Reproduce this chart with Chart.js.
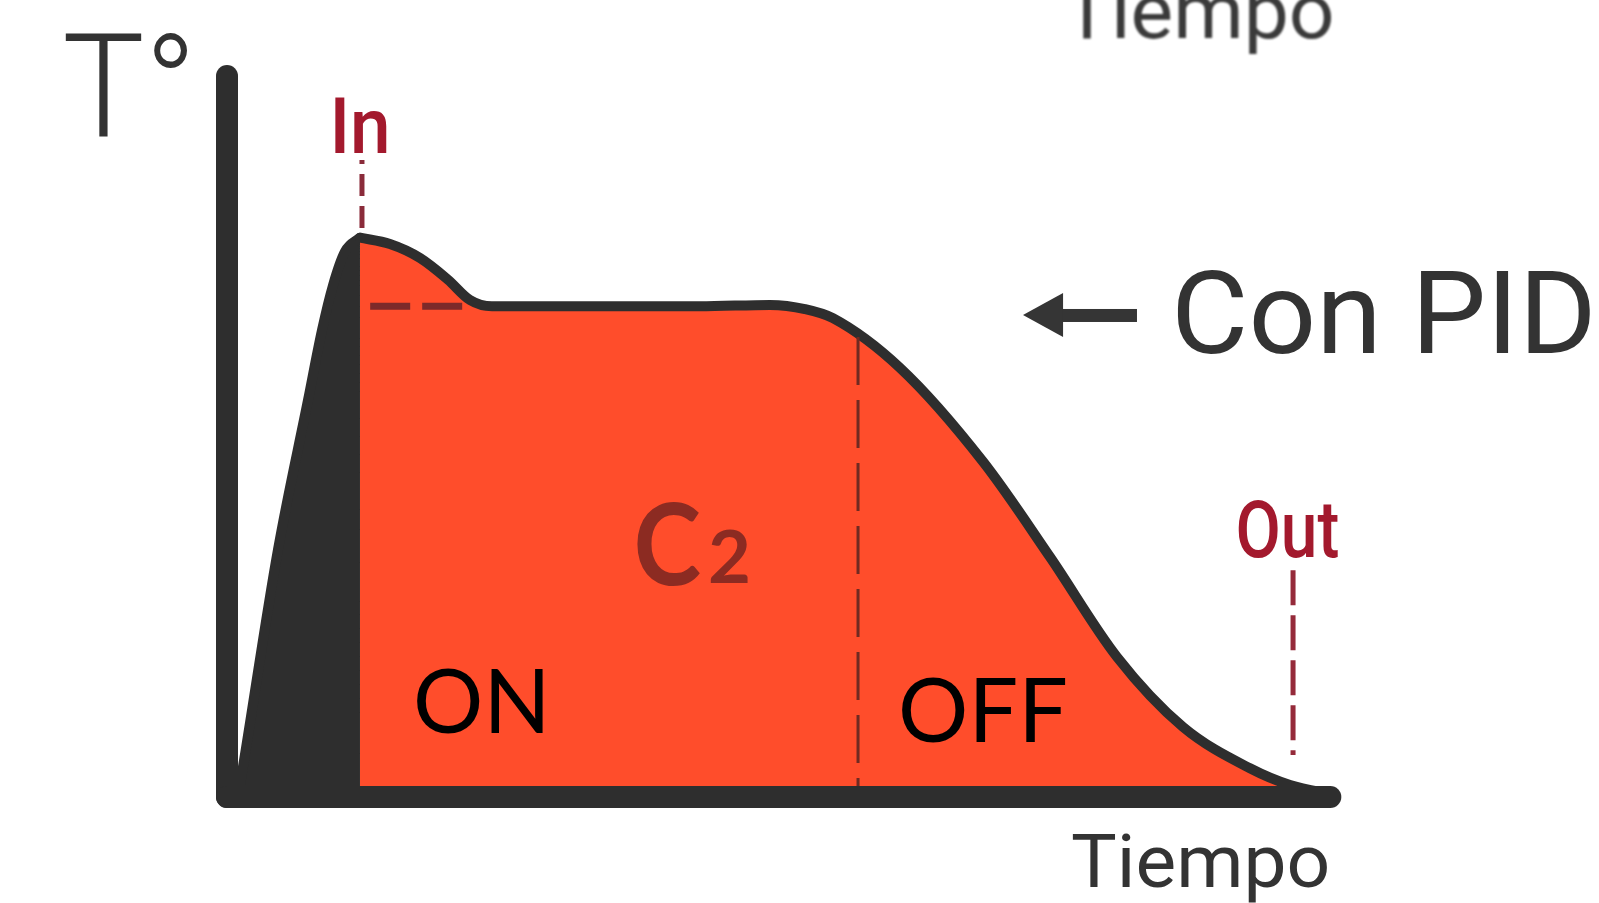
<!DOCTYPE html>
<html>
<head>
<meta charset="utf-8">
<script src="https://cdn.jsdelivr.net/npm/chart.js@4.4.1/dist/chart.umd.min.js"></script>
<style>
  html, body { margin: 0; padding: 0; background: #ffffff; }
  #wrap { width: 1599px; height: 903px; position: relative; }
</style>
</head>
<body>
<div id="wrap"><canvas id="c"></canvas></div>
<script>
// ---- Data (time in arbitrary units, temperature in arbitrary units) ----
const riseTime = [0.99, 1.44, 4.59, 7.30, 8.56, 9.55, 10.63, 11.98];
const riseTemp = [0, 4.3, 35.3, 56.7, 66.7, 73.1, 77.9, 79.9];

const pidTime = [11.98, 14.68, 17.39, 19.91, 21.89, 23.87, 33.6, 42.6, 48.92,
                 52.07, 54.59, 60.63, 68.11, 74.14, 80.18, 86.13, 92.16, 95.77, 99.82];
const pidTemp = [79.9, 79.0, 77.0, 73.9, 71.0, 70.1, 70.1, 70.1, 70.3,
                 69.7, 68.4, 61.3, 47.9, 34.3, 20.0, 10.0, 4.1, 1.7, 0.3];

const setpointTemp = 70.1;
const setpointSpan = [12.9, 21.3];
const inTime = 12.16;   const inSpan = [81.3, 91.0];
const offTime = 56.85;  const offSpan = [1.4, 65.7];
const outTime = 96.04;  const outSpan = [6.0, 32.4];
const axisTimeEnd = 99.4;
const axisTempEnd = 103;

const toPts = (xs, ys) => xs.map((x, i) => ({ x: x, y: ys[i] }));

const DARK = '#2e2e2e';
const ORANGE = '#ff4d2b';
const RED = '#a3192d';

function inkText(ctx, text, font, left, baseline, w, asc, color) {
  ctx.save();
  ctx.font = font;
  ctx.textAlign = 'left';
  ctx.textBaseline = 'alphabetic';
  const m = ctx.measureText(text);
  const iw = m.actualBoundingBoxLeft + m.actualBoundingBoxRight;
  const ia = m.actualBoundingBoxAscent;
  ctx.translate(left, baseline);
  ctx.scale(w / iw, asc / ia);
  ctx.fillStyle = color;
  ctx.fillText(text, m.actualBoundingBoxLeft, 0);
  ctx.restore();
}

const annotations = {
  id: 'annotations',
  beforeDraw(chart) {
    const ctx = chart.ctx;
    ctx.save();
    ctx.fillStyle = '#ffffff';
    ctx.fillRect(0, 0, chart.width, chart.height);
    ctx.restore();
  },
  afterDraw(chart) {
    const ctx = chart.ctx;
    const xs = chart.scales.x, ys = chart.scales.y;
    const px = v => xs.getPixelForValue(v), py = v => ys.getPixelForValue(v);

    // arrow pointing to the PID curve
    const tipX = px(71.71), tipY = py(68.86);
    const baseX = px(75.32), endX = px(82.07);
    ctx.save();
    ctx.fillStyle = '#353535';
    ctx.beginPath();
    ctx.moveTo(tipX, tipY);
    ctx.lineTo(baseX, tipY - 22);
    ctx.lineTo(baseX, tipY + 22);
    ctx.closePath();
    ctx.fill();
    ctx.fillRect(baseX - 1, tipY - 6, endX - baseX, 13);
    ctx.restore();

    inkText(ctx, 'T°', '300 146px Roboto', 65, 137, 122, 105, '#333333');
    inkText(ctx, 'In', '500 79px Roboto', 335, 153, 52, 56, RED);
    inkText(ctx, 'Out', '500 80px Roboto', 1238, 557, 100, 57, RED);
    inkText(ctx, 'Con PID', '400 120px Roboto', 1178, 353, 412, 85, '#333333');
    inkText(ctx, 'Tiempo', '400 76px Roboto', 1072, 887, 255, 54, '#333333');
    ctx.save(); ctx.filter = 'blur(1px)';
    inkText(ctx, 'Tiempo', '400 80px Roboto', 1064, 38, 268, 57, '#3a3a3a');
    ctx.restore();
    inkText(ctx, 'C', '700 115px Lato', 637, 585, 63, 83, '#8c2b22');
    inkText(ctx, '2', '700 76px Lato', 710, 583, 38, 55, '#8c2b22');
    inkText(ctx, 'ON', '400 90px Lato', 417, 733, 126, 65, '#000000');
    inkText(ctx, 'OFF', '400 90px Lato', 902, 742, 163, 64, '#000000');
  }
};

const line = (data, opts) => Object.assign({
  data: data, pointRadius: 0, pointHoverRadius: 0, fill: false, clip: false,
  borderCapStyle: 'round', borderJoinStyle: 'round', tension: 0
}, opts);

new Chart(document.getElementById('c'), {
  type: 'line',
  data: {
    datasets: [
      line([{ x: 0, y: 0 }, { x: axisTimeEnd, y: 0 }], { label: 'eje tiempo', borderColor: DARK, borderWidth: 22, order: 0 }),
      line([{ x: 0, y: 0 }, { x: 0, y: axisTempEnd }], { label: 'eje T°', borderColor: DARK, borderWidth: 22, order: 0 }),
      line(toPts(riseTime, riseTemp), { label: 'calentamiento', borderColor: DARK, backgroundColor: DARK,
        borderWidth: 10, fill: 'origin', cubicInterpolationMode: 'monotone', order: 3 }),
      line(toPts(pidTime, pidTemp), { label: 'Con PID', borderColor: DARK, backgroundColor: ORANGE,
        borderWidth: 10, fill: 'origin', cubicInterpolationMode: 'monotone', order: 2 }),
      line([{ x: setpointSpan[0], y: setpointTemp }, { x: setpointSpan[1], y: setpointTemp }],
        { label: 'consigna', borderColor: '#7d2a2a', borderWidth: 7, borderDash: [40, 12], borderCapStyle: 'butt', order: 1 }),
      line([{ x: inTime, y: inSpan[0] }, { x: inTime, y: inSpan[1] }],
        { label: 'In', borderColor: '#8a2b3a', borderWidth: 5, borderDash: [22, 10], borderCapStyle: 'butt', order: 1 }),
      line([{ x: offTime, y: offSpan[1] }, { x: offTime, y: offSpan[0] }],
        { label: 'OFF', borderColor: '#6e2a22', borderWidth: 3, borderDash: [48, 15], borderCapStyle: 'butt', order: 1 }),
      line([{ x: outTime, y: outSpan[1] }, { x: outTime, y: outSpan[0] }],
        { label: 'Out', borderColor: '#952a3a', borderWidth: 5, borderDash: [35, 10], borderCapStyle: 'butt', order: 1 })
    ]
  },
  options: {
    responsive: true,
    maintainAspectRatio: false,
    animation: false,
    events: [],
    layout: { padding: { left: 227, right: 262, top: 62, bottom: 106 } },
    plugins: { legend: { display: false }, tooltip: { enabled: false }, title: { display: false } },
    scales: {
      x: { type: 'linear', min: 0, max: 100, display: false },
      y: { type: 'linear', min: 0, max: 105, display: false }
    }
  },
  plugins: [annotations]
});
</script>
</body>
</html>
